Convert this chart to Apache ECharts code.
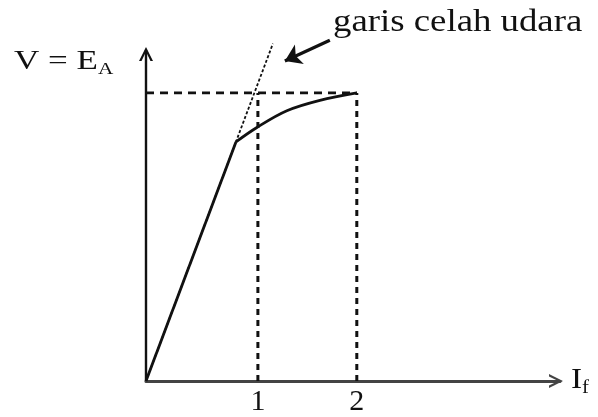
<!DOCTYPE html>
<html>
<head>
<meta charset="utf-8">
<script src="https://cdn.jsdelivr.net/npm/echarts@6/dist/echarts.min.js"></script>
<style>
  html, body { margin: 0; padding: 0; background: #fff; }
  #chart { width: 598px; height: 417px; }
</style>
</head>
<body>
<div id="chart"></div>
<script>
// Generator open-circuit characteristic: E_A versus field current I_f
// Field current in arbitrary units, voltage normalised to rated voltage (1.0)

// magnetisation curve: linear part up to the knee, then saturating
const linearPart = [[0, 0], [0.804, 0.830]];
const saturationPart = [[0.804, 0.830], [0.991, 0.880], [1.259, 0.938], [1.554, 0.974], [1.884, 1.0]];

// air-gap line (extension of the linear part)
const airGapLine = [[0, 0], [1.134, 1.171]];

// field currents marked on the x axis and their labels
const fieldMarks = [1.0, 1.884];
const fieldLabels = ['1', '2'];

// rated voltage level
const ratedVoltage = 1.0;

// pointer for the "garis celah udara" label: [tail, head]
const pointer = [[1.643, 1.183], [1.241, 1.111]];

const INK = '#111';
const serif = '"Liberation Serif", "DejaVu Serif", serif';
const chevronUp = 'path://M0,10 L5,0 L10,10 L8.2,10 L5,3.4 L1.8,10 Z';

const guideStyle = { color: INK, width: 2.6, type: [8, 6] };

const series = [
  {
    type: 'line', data: linearPart, showSymbol: false, clip: false,
    lineStyle: { color: INK, width: 2.8 }, z: 5
  },
  {
    type: 'line', data: saturationPart, smooth: 0.35,
    showSymbol: false, clip: false,
    lineStyle: { color: INK, width: 2.8 }, z: 5
  },
  {
    type: 'line', data: airGapLine, showSymbol: false, clip: false,
    lineStyle: { color: INK, width: 1.8, type: [3, 2] }, z: 4
  },
  // rated-voltage guide
  {
    type: 'line', data: [[0, ratedVoltage], [fieldMarks[1], ratedVoltage]],
    showSymbol: false, clip: false, lineStyle: guideStyle, z: 3
  }
];
// vertical guides at the marked field currents
fieldMarks.forEach(function (f) {
  series.push({
    type: 'line', data: [[f, 0], [f, ratedVoltage]],
    showSymbol: false, clip: false,
    lineStyle: { color: INK, width: 3, type: [6, 5] }, z: 3
  });
});
// pointer arrow for the annotation
series.push({
  type: 'lines', coordinateSystem: 'cartesian2d', polyline: false, clip: false,
  symbol: ['none', 'arrow'], symbolSize: [14, 16],
  lineStyle: { color: INK, width: 3.2, opacity: 1 },
  data: [{ coords: pointer }], z: 6
});

const chart = echarts.init(document.getElementById('chart'), null, { renderer: 'canvas' });
chart.setOption({
  backgroundColor: '#fff',
  animation: false,
  grid: { left: 146, right: 38, top: 50, bottom: 35, containLabel: false },
  xAxis: {
    type: 'value', min: 0, max: 3.7,
    splitLine: { show: false },
    axisTick: { show: false },
    axisLine: {
      show: true, symbol: ['none', chevronUp], symbolSize: [18, 14], symbolOffset: [0, -4],
      lineStyle: { color: '#444', width: 3 }
    },
    axisLabel: {
      customValues: fieldMarks,
      formatter: function (v) {
        const i = fieldMarks.findIndex(function (m) { return Math.abs(m - v) < 1e-6; });
        return i >= 0 ? fieldLabels[i] : '';
      },
      color: INK, fontFamily: serif, fontSize: 30, margin: 6
    }
  },
  yAxis: {
    type: 'value', min: 0, max: 1.149,
    splitLine: { show: false },
    axisTick: { show: false },
    axisLabel: { show: false },
    axisLine: {
      show: true, symbol: ['none', chevronUp], symbolSize: [18, 14], symbolOffset: [0, -4],
      lineStyle: { color: INK, width: 2.4 }
    }
  },
  graphic: [
    {
      type: 'text', x: 14, y: 46, scaleX: 1.25,
      style: {
        text: 'V = E{s|A}', fill: INK, font: '28px ' + serif,
        rich: { s: { fontSize: 17, fontFamily: serif, fill: INK, padding: [15, 0, 0, 0] } }
      }
    },
    {
      type: 'text', x: 333, y: 7, scaleX: 1.15,
      style: { text: 'garis celah udara', fill: INK, font: '32px ' + serif }
    },
    {
      type: 'text', x: 571, y: 364, scaleX: 1.15,
      style: {
        text: 'I{s|f}', fill: INK, font: '29px ' + serif,
        rich: { s: { fontSize: 18, fontFamily: serif, fill: INK, padding: [15, 0, 0, 0] } }
      }
    }
  ],
  series: series
});
</script>
</body>
</html>
